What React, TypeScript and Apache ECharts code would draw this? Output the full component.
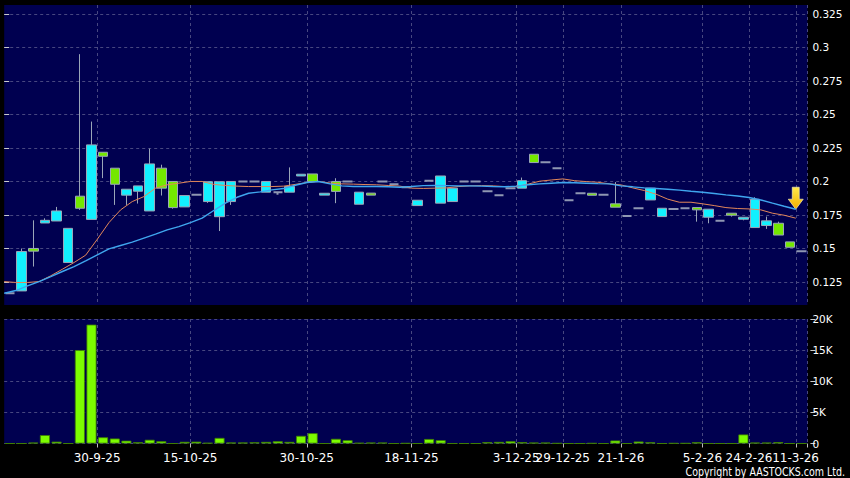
import React, { useEffect, useRef } from 'react';
import * as echarts from 'echarts';

// x-axis tick labels and the category index where each one sits
const tickLabels = ['30-9-25', '15-10-25', '30-10-25', '18-11-25', '3-12-25', '29-12-25', '21-1-26', '5-2-26', '24-2-26', '11-3-26'];
const tickIndex = [8, 16, 26, 35, 44, 48, 53, 60, 64, 68];

// daily prices (69 sessions)
const open = [
  0.1166, 0.1183, 0.150, 0.169, 0.1705, 0.1395, 0.189, 0.1717, 0.2218, 0.2099,
  0.1898, 0.1927, 0.178, 0.2099, 0.200, 0.181, 0.190, 0.185, 0.1737, 0.185,
  0.200, 0.200, 0.192, 0.192, 0.192, 0.2041, 0.2056, 0.1898, 0.200, 0.200,
  0.183, 0.1913, 0.200, 0.198, 0.1957, 0.182, 0.2006, 0.1838, 0.185, 0.200,
  0.200, 0.1927, 0.1897, 0.195, 0.195, 0.2203, 0.2143, 0.2099, 0.186, 0.1912,
  0.1912, 0.190, 0.1833, 0.1743, 0.180, 0.1862, 0.1738, 0.1795, 0.180, 0.1805,
  0.1733, 0.1706, 0.1763, 0.1718, 0.1656, 0.1671, 0.1688, 0.1549, 0.148,
];
const close = [
  0.1166, 0.1477, 0.148, 0.171, 0.178, 0.165, 0.180, 0.2273, 0.2188, 0.1979,
  0.1942, 0.1967, 0.2131, 0.195, 0.1805, 0.1895, 0.190, 0.1998, 0.1998, 0.200,
  0.200, 0.200, 0.200, 0.192, 0.1962, 0.2054, 0.200, 0.1912, 0.1926, 0.200,
  0.192, 0.1898, 0.200, 0.198, 0.1957, 0.186, 0.2006, 0.2041, 0.195, 0.200,
  0.200, 0.1927, 0.1897, 0.195, 0.2006, 0.2141, 0.2143, 0.2099, 0.186, 0.1912,
  0.1897, 0.190, 0.1808, 0.1743, 0.180, 0.195, 0.180, 0.1795, 0.180, 0.1788,
  0.1793, 0.1706, 0.1748, 0.1733, 0.1867, 0.1706, 0.160, 0.1509, 0.148,
];
const low = [
  0.1166, 0.1183, 0.1365, 0.169, 0.1705, 0.1395, 0.1788, 0.1717, 0.2025, 0.1825,
  0.1825, 0.1835, 0.178, 0.1895, 0.1797, 0.181, 0.190, 0.184, 0.163, 0.1825,
  0.200, 0.200, 0.192, 0.190, 0.192, 0.2041, 0.200, 0.1898, 0.1838, 0.200,
  0.183, 0.1898, 0.200, 0.198, 0.1957, 0.182, 0.2006, 0.1838, 0.185, 0.200,
  0.200, 0.1927, 0.1897, 0.195, 0.195, 0.2141, 0.2143, 0.2099, 0.186, 0.1912,
  0.1897, 0.190, 0.1808, 0.1743, 0.180, 0.1862, 0.1738, 0.1795, 0.180, 0.170,
  0.1688, 0.1706, 0.1738, 0.171, 0.1656, 0.1646, 0.160, 0.1509, 0.148,
];
const high = [
  0.1166, 0.150, 0.171, 0.1725, 0.181, 0.165, 0.295, 0.2447, 0.2218, 0.2099,
  0.1942, 0.1967, 0.2245, 0.2125, 0.200, 0.1895, 0.190, 0.1998, 0.1998, 0.200,
  0.200, 0.200, 0.200, 0.192, 0.2105, 0.2054, 0.2056, 0.1912, 0.2024, 0.200,
  0.192, 0.1913, 0.200, 0.198, 0.1957, 0.186, 0.2006, 0.2041, 0.195, 0.200,
  0.200, 0.1927, 0.1897, 0.195, 0.2029, 0.2203, 0.2143, 0.2099, 0.186, 0.1912,
  0.1912, 0.190, 0.1995, 0.1743, 0.180, 0.195, 0.180, 0.1795, 0.180, 0.1805,
  0.1793, 0.1706, 0.1763, 0.1733, 0.1882, 0.1738, 0.170, 0.1549, 0.148,
];

// daily volume (shares)
const volume = [
  0, 0, 150, 1350, 300, 0, 15000, 19100, 1000, 800,
  450, 200, 600, 370, 0, 270, 300, 100, 900, 160,
  160, 200, 260, 370, 260, 1230, 1660, 0, 750, 530,
  100, 150, 150, 0, 50, 0, 720, 530, 0, 0,
  0, 220, 260, 370, 220, 150, 150, 50, 0, 0,
  50, 0, 480, 0, 320, 200, 0, 50, 50, 200,
  0, 0, 0, 1450, 150, 150, 220, 0, 0,
];

// moving averages as drawn (short = orange, long = blue)
const maShort = [
  0.1253, 0.1246, 0.1246, 0.1253, 0.1296, 0.1345, 0.1395, 0.145, 0.1569, 0.1693,
  0.1788, 0.185, 0.1887, 0.195, 0.1975, 0.1987, 0.200, 0.200, 0.1978, 0.197,
  0.1965, 0.1962, 0.1962, 0.1962, 0.1965, 0.1978, 0.1992, 0.200, 0.1988, 0.1982,
  0.198, 0.1977, 0.1975, 0.197, 0.1965, 0.195, 0.1948, 0.195, 0.1952, 0.1962,
  0.1967, 0.1969, 0.1967, 0.1962, 0.1962, 0.198, 0.2002, 0.2011, 0.2019, 0.2006,
  0.1999, 0.1994, 0.1982, 0.1974, 0.1952, 0.1932, 0.1905, 0.1868, 0.1845, 0.1845,
  0.1833, 0.182, 0.1805, 0.1798, 0.1795, 0.1788, 0.1763, 0.1748, 0.1726,
];
const maLong = [
  0.1166, 0.1186, 0.1221, 0.1253, 0.129, 0.1328, 0.1365, 0.1407, 0.1452, 0.1497,
  0.1522, 0.1547, 0.1577, 0.1607, 0.1639, 0.1663, 0.1693, 0.1726, 0.1783, 0.1838,
  0.1882, 0.1912, 0.1922, 0.1937, 0.1947, 0.1972, 0.1992, 0.200, 0.1982, 0.1967,
  0.1962, 0.1962, 0.1962, 0.196, 0.1957, 0.1962, 0.1969, 0.197, 0.1969, 0.1967,
  0.1967, 0.1965, 0.1962, 0.196, 0.1965, 0.1975, 0.1982, 0.1987, 0.1992, 0.199,
  0.1987, 0.1984, 0.1982, 0.1967, 0.196, 0.1952, 0.1947, 0.1942, 0.1935, 0.1927,
  0.192, 0.191, 0.19, 0.1892, 0.188, 0.1862, 0.1838, 0.1815, 0.1793,
];

const priceTicks = [0.125, 0.15, 0.175, 0.2, 0.225, 0.25, 0.275, 0.3, 0.325];

const PLOT_BG = '#000050';
const GRID_LINE = '#474780';
const UP = '#12f0ff';
const DOWN = '#74e800';
const WICK = '#9aa6b8';
const DOJI = '#8f97b2';
const VOL = '#7cfc00';
const FONT = 'DejaVu Sans';

export default function App() {
  const ref = useRef<HTMLDivElement>(null);

  useEffect(() => {
    if (!ref.current) return;
    const chart = echarts.init(ref.current, undefined, { renderer: 'svg' });

    const categories = open.map((_, i) => {
      const k = tickIndex.indexOf(i);
      return k >= 0 ? tickLabels[k] : '';
    });
    const lastTick = tickIndex[tickIndex.length - 1];
    const showAt = (index: number) => tickIndex.includes(index);
    const showLabelAt = (index: number) => index !== lastTick && tickIndex.includes(index);

    const candles = open.map((o, i) => {
      const v = [o, close[i], low[i], high[i]];
      if (o === close[i]) {
        return {
          value: v,
          itemStyle: { color: DOJI, color0: DOJI, borderColor: DOJI, borderColor0: DOJI, borderWidth: 2 },
        };
      }
      return v;
    });

    const splitLine = {
      show: true,
      lineStyle: { color: GRID_LINE, width: 1, type: [3, 3] as any },
    };

    const dateLabel = {
      show: true, color: '#ffffff', fontFamily: FONT, fontSize: 12,
      margin: 7, padding: [0, 0, 0, -12], showMaxLabel: true, showMinLabel: true, hideOverlap: false,
    };

    const arrowPath = 'path://M4,0 L11,0 L11,12 L15,12 L7.5,22 L0,12 L4,12 Z';

    chart.setOption({
      animation: false,
      backgroundColor: '#000000',
      grid: [
        { left: 4.2, right: 42.6, top: 5, height: 300, show: true, backgroundColor: PLOT_BG, borderWidth: 0 },
        { left: 4.2, right: 42.6, top: 319, height: 124.5, show: true, backgroundColor: PLOT_BG, borderWidth: 0 },
      ],
      xAxis: [
        {
          type: 'category', gridIndex: 0, data: categories, boundaryGap: true,
          axisLine: { show: false }, axisTick: { show: false }, axisLabel: { show: false },
          splitLine: { ...splitLine, interval: showAt },
        },
        {
          type: 'category', gridIndex: 1, data: categories, boundaryGap: true, offset: 1,
          axisLine: { show: false },
          axisTick: { show: true, length: 4, interval: showAt, lineStyle: { color: '#bbbbbb' } },
          axisLabel: { ...dateLabel, interval: showLabelAt },
          splitLine: { ...splitLine, interval: showAt },
        },
        { type: 'value', gridIndex: 0, min: 0, max: 69, show: false },
        {
          type: 'category', gridIndex: 1, data: categories, boundaryGap: true, offset: 1, position: 'bottom',
          axisLine: { show: false }, axisTick: { show: false }, splitLine: { show: false },
          axisLabel: { ...dateLabel, interval: (index: number) => index === lastTick },
        },
      ],
      yAxis: [
        {
          type: 'value', gridIndex: 0, position: 'right', min: 0.1078, max: 0.3317, offset: 3,
          axisLine: { show: false },
          axisTick: { show: true, length: 5, customValues: priceTicks, lineStyle: { color: '#cccccc' } },
          axisLabel: {
            show: true, customValues: priceTicks, color: '#ffffff', fontFamily: FONT, fontSize: 10.5, margin: 2,
            formatter: (v: number) => String(+v.toFixed(3)),
          },
          splitLine,
        },
        {
          type: 'value', gridIndex: 1, position: 'right', min: 0, max: 20000, interval: 5000, offset: 3,
          axisLine: { show: false },
          axisTick: { show: true, length: 5, lineStyle: { color: '#cccccc' } },
          axisLabel: {
            show: true, color: '#ffffff', fontFamily: FONT, fontSize: 10.5, margin: 2,
            formatter: (v: number) => (v === 0 ? '0' : v / 1000 + 'K'),
          },
          splitLine,
        },
      ],
      series: [
        {
          type: 'candlestick', xAxisIndex: 0, yAxisIndex: 0, barWidth: 10,
          data: candles,
          itemStyle: { color: UP, color0: DOWN, borderColor: WICK, borderColor0: WICK, borderWidth: 1 },
        },
        {
          type: 'bar', xAxisIndex: 1, yAxisIndex: 1, barWidth: 10,
          data: volume,
          itemStyle: { color: VOL, borderColor: '#3f8000', borderWidth: 0.8 },
        },
        {
          type: 'line', xAxisIndex: 2, yAxisIndex: 0, symbol: 'none', z: 5,
          data: maShort.map((v, i) => [i, v]),
          lineStyle: { color: '#e2875a', width: 1 },
        },
        {
          type: 'line', xAxisIndex: 2, yAxisIndex: 0, symbol: 'none', z: 5,
          data: maLong.map((v, i) => [i, v]),
          lineStyle: { color: '#3fa6ee', width: 1.4 },
          markPoint: {
            silent: true,
            symbol: arrowPath,
            symbolSize: [15, 22],
            symbolOffset: [0, '-50%'],
            label: { show: false },
            itemStyle: {
              color: new echarts.graphic.LinearGradient(0, 0, 0, 1, [
                { offset: 0, color: '#ffe94a' },
                { offset: 1, color: '#f2b000' },
              ]),
              borderColor: '#fff8c0',
              borderWidth: 0.6,
            },
            data: [{ coord: [maLong.length - 1, maLong[maLong.length - 1]] }],
          },
        },
      ],
      graphic: [
        {
          type: 'text', x: 845, y: 478, scaleX: 0.79, silent: true,
          style: {
            text: 'Copyright by AASTOCKS.com Ltd.',
            fill: '#ffffff', font: `12px "${FONT}"`,
            textAlign: 'right', textVerticalAlign: 'bottom',
          },
        },
      ],
    });

    return () => chart.dispose();
  }, []);

  return (
    <div
      ref={ref}
      style={{ position: 'fixed', left: 0, top: 0, width: 850, height: 478, background: '#000' }}
    />
  );
}
